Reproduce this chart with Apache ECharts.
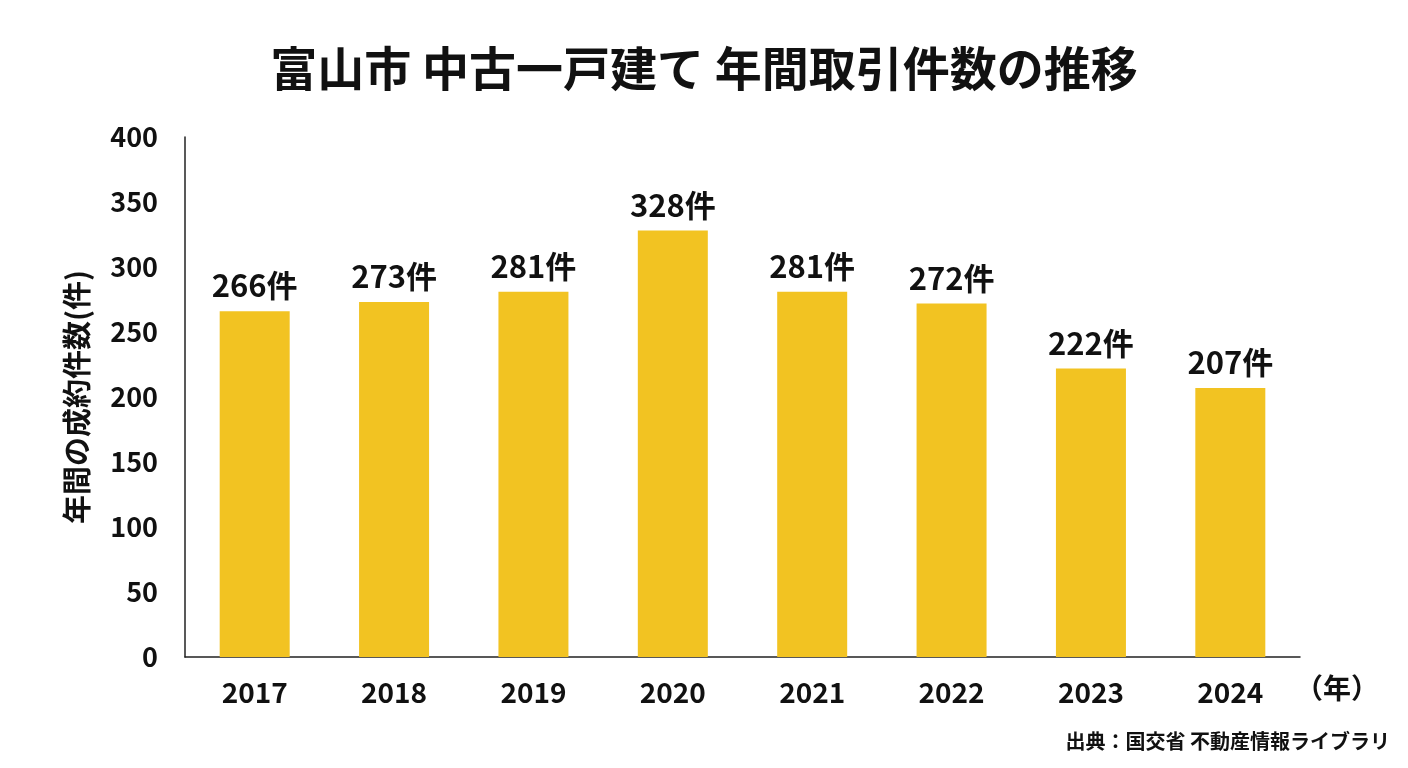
<!DOCTYPE html>
<html>
<head>
<meta charset="utf-8">
<script src="https://cdn.jsdelivr.net/npm/echarts@6/dist/echarts.min.js"></script>
<style>
  html, body { margin: 0; padding: 0; background: #fff; }
  #chart { width: 1408px; height: 768px; }
</style>
</head>
<body>
<div id="chart"></div>
<script>
// 年ごとの成約件数
const years = ['2017', '2018', '2019', '2020', '2021', '2022', '2023', '2024'];
const counts = [266, 273, 281, 328, 281, 272, 222, 207];
const yTicks = [0, 50, 100, 150, 200, 250, 300, 350, 400];

const font = '"Noto Sans CJK JP", "Noto Sans", sans-serif';
const chart = echarts.init(document.getElementById('chart'));

chart.setOption({
  backgroundColor: '#ffffff',
  textStyle: { fontFamily: font },
  title: {
    text: '富山市 中古一戸建て 年間取引件数の推移',
    left: 'center',
    top: 40,
    textStyle: { fontSize: 47, fontWeight: 'bold', color: '#111', fontFamily: font }
  },
  grid: { left: 185, right: 108, top: 137, bottom: 111 },
  xAxis: {
    type: 'category',
    data: years,
    axisLine: { lineStyle: { color: '#222', width: 1.5 } },
    axisTick: { show: false },
    axisLabel: { fontSize: 28, fontWeight: 'bold', color: '#111', margin: 21, fontFamily: font }
  },
  yAxis: {
    type: 'value',
    min: yTicks[0],
    max: yTicks[yTicks.length - 1],
    interval: yTicks[1] - yTicks[0],
    name: '年間の成約件数(件)',
    nameLocation: 'middle',
    nameGap: 94,
    nameRotate: 90,
    nameTextStyle: { fontSize: 29, fontWeight: 'bold', color: '#111', fontFamily: font },
    axisLine: { show: true, lineStyle: { color: '#222', width: 1.5 } },
    axisTick: { show: false },
    splitLine: { show: false },
    axisLabel: { fontSize: 27, fontWeight: 'bold', color: '#111', margin: 27, fontFamily: font }
  },
  series: [{
    type: 'bar',
    data: counts,
    barWidth: 70,
    itemStyle: { color: '#F2C322' },
    label: {
      show: true,
      position: 'top',
      distance: 10,
      formatter: '{c}件',
      fontSize: 31,
      fontWeight: 'bold',
      color: '#111',
      fontFamily: font
    }
  }],
  graphic: [
    {
      type: 'text',
      left: 1295,
      top: 674,
      style: { text: '（年）', fontSize: 28, fontWeight: 'bold', fill: '#111', fontFamily: font }
    },
    {
      type: 'text',
      right: 18,
      top: 731,
      style: { text: '出典：国交省 不動産情報ライブラリ', fontSize: 20, fontWeight: 'bold', fill: '#111', fontFamily: font }
    }
  ]
});
</script>
</body>
</html>
